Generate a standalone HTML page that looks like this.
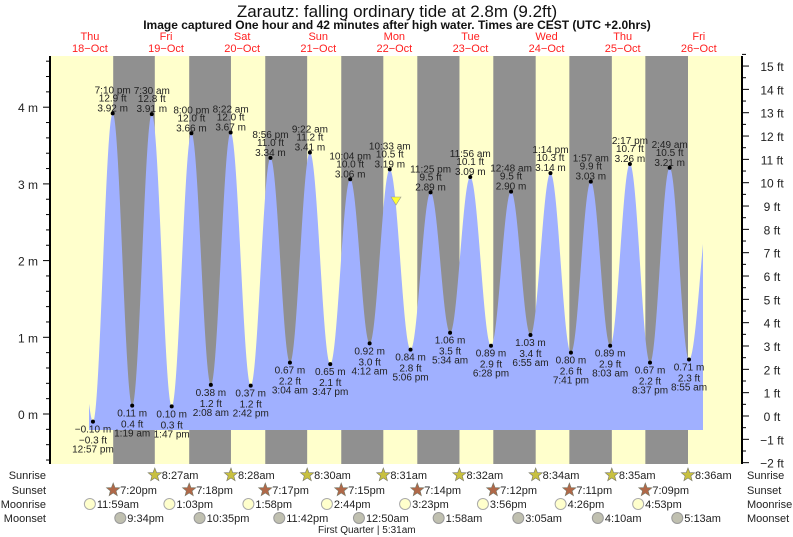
<!DOCTYPE html>
<html><head><meta charset="utf-8"><style>
html,body{margin:0;padding:0;background:#fff;}
svg{display:block;font-family:"Liberation Sans",sans-serif;}
</style></head><body>
<svg id="s" width="793" height="537" xmlns="http://www.w3.org/2000/svg"></svg>
<script>
const S=document.getElementById('s');let h='';
const X0=128,PX=3.171;const xo=t=>X0+t*PX;
const Y0=414,PM=76.7;const ym=m=>Y0-m*PM;
const L=50,R=742,T=56,B=464;
h+=`<rect x="${L}" y="${T}" width="${R-L}" height="${B-T}" fill="#ffffcc"/>`;
const ss=[[19,20],[19,18],[19,17],[19,15],[19,14],[19,12],[19,11],[19,9]];
const sr=[[8,27],[8,28],[8,30],[8,31],[8,32],[8,34],[8,35],[8,36]];
for(let i=0;i<8;i++){const a=xo((i-1)*24+ss[i][0]+ss[i][1]/60),b=xo(i*24+sr[i][0]+sr[i][1]/60);
h+=`<rect x="${a}" y="${T}" width="${b-a}" height="${B-T}" fill="#909090"/>`;}
const P=[[-13.5,0.35],[-11.05,-0.10,'12:57 pm'],[-4.83,3.92,'7:10 pm'],[1.32,0.11,'1:19 am'],[7.5,3.91,'7:30 am'],[13.78,0.10,'1:47 pm'],[20,3.66,'8:00 pm'],[26.13,0.38,'2:08 am'],[32.37,3.67,'8:22 am'],[38.7,0.37,'2:42 pm'],[44.93,3.34,'8:56 pm'],[51.07,0.67,'3:04 am'],[57.37,3.41,'9:22 am'],[63.78,0.65,'3:47 pm'],[70.07,3.06,'10:04 pm'],[76.2,0.92,'4:12 am'],[82.55,3.19,'10:33 am'],[89.1,0.84,'5:06 pm'],[95.42,2.89,'11:25 pm'],[101.57,1.06,'5:34 am'],[107.93,3.09,'11:56 am'],[114.47,0.89,'6:28 pm'],[120.8,2.90,'12:48 am'],[126.92,1.03,'6:55 am'],[133.23,3.14,'1:14 pm'],[139.68,0.80,'7:41 pm'],[145.95,3.03,'1:57 am'],[152.05,0.89,'8:03 am'],[158.28,3.26,'2:17 pm'],[164.62,0.67,'8:37 pm'],[170.82,3.21,'2:49 am'],[176.92,0.71,'8:55 am'],[184,2.9]];
function lev(t){for(let i=0;i<P.length-1;i++){const a=P[i],b=P[i+1];if(t>=a[0]&&t<=b[0]){const f=(t-a[0])/(b[0]-a[0]);return a[1]+(b[1]-a[1])*(1-Math.cos(Math.PI*f))/2;}}return 0;}
const t0=(89-X0)/PX,t1=(703-X0)/PX;let d=`M89,430`;
for(let t=t0;t<=t1;t+=0.1)d+=`L${xo(t).toFixed(2)},${ym(lev(t)).toFixed(2)}`;
d+=`L703,${ym(lev(t1)).toFixed(2)}L703,430Z`;
h+=`<path d="${d}" fill="#a0b0ff"/>`;
let tx='';
for(let i=1;i<P.length-1;i++){const [t,m,s]=P[i];const x=xo(t),y=ym(m);const hi=m>2;
h+=`<circle cx="${x}" cy="${y}" r="2" fill="#000"/>`;
const f=(m/0.3048).toFixed(1).replace('-','−')+' ft',mm=m.toFixed(2).replace('-','−')+' m';
if(hi){tx+=`<text x="${x}" y="${y-20}">${s}</text><text x="${x}" y="${y-12}">${f}</text><text x="${x}" y="${y-2}">${mm}</text>`;}
else{tx+=`<text x="${x}" y="${y+11}">${mm}</text><text x="${x}" y="${y+22}">${f}</text><text x="${x}" y="${y+31}">${s}</text>`;}}
h+=`<g font-size="10" fill="#222" text-anchor="middle">${tx}</g>`;
h+=`<polygon points="391,197 401,197 396,205" fill="#ffff33" stroke="#999" stroke-width="0.6"/>`;
h+=`<line x1="${L}" y1="${T}" x2="${L}" y2="${B}" stroke="#000" stroke-width="2"/><line x1="${R}" y1="${T}" x2="${R}" y2="${B}" stroke="#000" stroke-width="2"/>`;
let ax='';
for(let m=-0.6;m<=4.61;m+=0.2){const y=ym(m);const maj=Math.abs(m-Math.round(m))<0.01;ax+=`<line x1="${L-(maj?7:4)}" y1="${y}" x2="${L}" y2="${y}" stroke="#000"/>`;if(maj)ax+=`<text x="${L-12}" y="${y+5}" text-anchor="end">${Math.round(m)} m</text>`;}
for(let f=-2;f<=15.5;f+=0.5){const y=416-f*23.33;const maj=f%1==0;ax+=`<line x1="${R}" y1="${y}" x2="${R+(maj?7:4)}" y2="${y}" stroke="#000"/>`;if(maj)ax+=`<text x="${R+30}" y="${y+5}" text-anchor="middle">${String(f).replace('-','−')} ft</text>`;}
h+=`<g font-size="12" fill="#222">${ax}</g>`;
h+=`<text x="397" y="17" font-size="17" text-anchor="middle" fill="#111">Zarautz: falling  ordinary tide at 2.8m (9.2ft)</text>`;
h+=`<text x="397" y="29" font-size="12" font-weight="bold" text-anchor="middle" fill="#111">Image captured One hour and 42 minutes after high water. Times are CEST (UTC +2.0hrs)</text>`;
const dn=['Thu','Fri','Sat','Sun','Mon','Tue','Wed','Thu','Fri'];
for(let i=0;i<9;i++){const x=xo((i-1)*24+12);h+=`<text x="${x}" y="40" font-size="11" fill="#ff2020" text-anchor="middle">${dn[i]}</text><text x="${x}" y="52" font-size="11" fill="#ff2020" text-anchor="middle">${18+i}−Oct</text>`;}
let b='';
const rows=['Sunrise','Sunset','Moonrise','Moonset'],ry=[475,490,504,518];
for(let i=0;i<4;i++){b+=`<text x="46" y="${ry[i]+4}" text-anchor="end">${rows[i]}</text><text x="747" y="${ry[i]+4}">${rows[i]}</text>`;}
function star(x,y,c){let p='';for(let k=0;k<10;k++){const r=k%2?3:7,a=-Math.PI/2+k*Math.PI/5;p+=`${(x+r*Math.cos(a)).toFixed(1)},${(y+r*Math.sin(a)).toFixed(1)} `;}return `<polygon points="${p}" fill="${c}" stroke="#776" stroke-width="0.6"/>`;}
const srl=['8:27am','8:28am','8:30am','8:31am','8:32am','8:34am','8:35am','8:36am'];
for(let i=0;i<8;i++){const x=xo(i*24+sr[i][0]+sr[i][1]/60);b+=star(x,475,'#c8c040')+`<text x="${x+7}" y="479">${srl[i]}</text>`;
const x2=xo((i-1)*24+ss[i][0]+ss[i][1]/60);b+=star(x2,490,'#b06848')+`<text x="${x2+7}" y="494">${ss[i][0]-12}:${String(ss[i][1]).padStart(2,'0')}pm</text>`;}
const mr=[[11.98,'11:59am'],[13.05,'1:03pm'],[13.97,'1:58pm'],[14.73,'2:44pm'],[15.38,'3:23pm'],[15.93,'3:56pm'],[16.43,'4:26pm'],[16.88,'4:53pm']];
mr.forEach(([hh,s],i)=>{const x=xo((i-1)*24+hh);b+=`<circle cx="${x}" cy="504" r="5.5" fill="#ffffcc" stroke="#aaa"/><text x="${x+7}" y="508">${s}</text>`;});
const ms=[[-2.43,'9:34pm'],[22.58,'10:35pm'],[47.7,'11:42pm'],[72.83,'12:50am'],[97.97,'1:58am'],[123.08,'3:05am'],[148.17,'4:10am'],[173.22,'5:13am']];
for(const [t,s] of ms){const x=xo(t);b+=`<circle cx="${x}" cy="518" r="5.5" fill="#c0c0b0" stroke="#999"/><text x="${x+7}" y="522">${s}</text>`;}
b+=`<text x="318" y="533" font-size="10">First Quarter | 5:31am</text>`;
h+=`<g font-size="11" fill="#222">${b}</g>`;
S.innerHTML=h;
</script>
</body></html>
